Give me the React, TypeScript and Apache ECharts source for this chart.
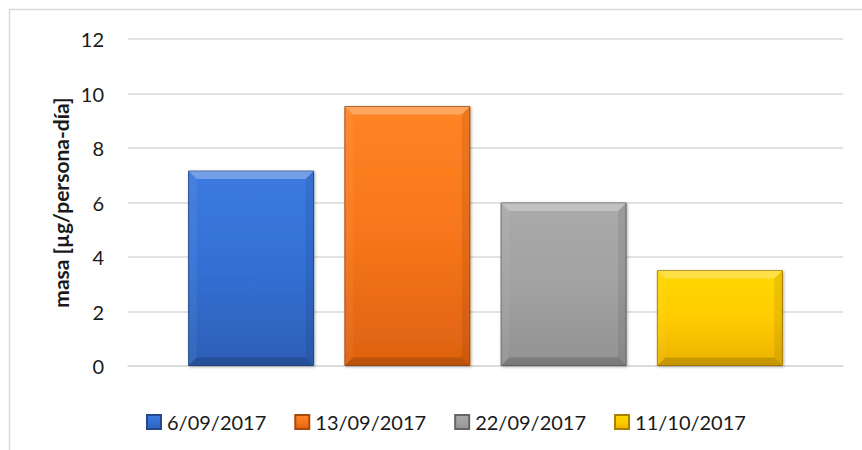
import React, { useEffect, useRef } from "react";
import * as echarts from "echarts";

const categories = [""];
const seriesNames = ["6/09/2017", "13/09/2017", "22/09/2017", "11/10/2017"];
const seriesValues = [7.17, 9.54, 6.0, 3.52];
const yTicks = { min: 0, max: 12, interval: 2 };
const yAxisTitle = "masa [µg/persona-día]";

const palettes = [
  ["#3C7BE0", "#3370D4", "#2D5FB6"],
  ["#FF8424", "#F7761A", "#DE6210"],
  ["#AAAAAA", "#A2A2A2", "#929292"],
  ["#FFD600", "#FFCC00", "#EBB200"],
];
const borders = ["#24498A", "#A84A0C", "#666666", "#A88000"];

const BAR_W = 126;
const BAR_GAP = 0.24;
const BEVEL = 8;

export default function App() {
  const ref = useRef<HTMLDivElement>(null);
  useEffect(() => {
    if (!ref.current) return;
    const chart = echarts.init(ref.current, null, { renderer: "svg" });
    const font = "Lato, 'Open Sans', sans-serif";
    const n = seriesNames.length;
    const step = BAR_W * (1 + BAR_GAP);

    const bevelSeries = {
      type: "custom",
      silent: true,
      z: 3,
      data: seriesValues.map((v, i) => [0, v, i]),
      renderItem: (params: any, api: any) => {
        const v = api.value(1);
        const i = api.value(2);
        const top = api.coord([0, v]);
        const base = api.coord([0, 0]);
        const cx = top[0] + (i - (n - 1) / 2) * step;
        const x0 = cx - BAR_W / 2 + 0.5;
        const x1 = cx + BAR_W / 2 - 0.5;
        const y0 = top[1] + 0.5;
        const y1 = base[1] - 0.5;
        const b = BEVEL;
        return {
          type: "group",
          children: [
            {
              type: "polygon",
              shape: { points: [[x0, y0], [x1, y0], [x1 - b, y0 + b], [x0 + b, y0 + b]] },
              style: { fill: "rgba(255,255,255,0.28)" },
            },
            {
              type: "polygon",
              shape: { points: [[x0, y0], [x0 + b, y0 + b], [x0 + b, y1 - b], [x0, y1]] },
              style: { fill: "rgba(255,255,255,0.05)" },
            },
            {
              type: "polygon",
              shape: { points: [[x1, y0], [x1, y1], [x1 - b, y1 - b], [x1 - b, y0 + b]] },
              style: { fill: "rgba(0,0,0,0.08)" },
            },
            {
              type: "polygon",
              shape: { points: [[x0, y1], [x0 + b, y1 - b], [x1 - b, y1 - b], [x1, y1]] },
              style: { fill: "rgba(0,0,0,0.16)" },
            },
          ],
        };
      },
    };

    chart.setOption({
      animation: false,
      backgroundColor: "#ffffff",
      textStyle: { fontFamily: font },
      graphic: [
        {
          type: "rect",
          shape: { x: 9.5, y: 9.5, width: 900, height: 500 },
          style: { fill: "none", stroke: "#D9D9D9", lineWidth: 1.5 },
          silent: true,
        },
        {
          type: "text",
          x: 60,
          y: 202.5,
          rotation: Math.PI / 2,
          style: {
            text: yAxisTitle,
            font: `bold 21px ${font}`,
            fill: "#1a1a1a",
            align: "center",
            verticalAlign: "middle",
          },
          silent: true,
        },
      ],
      grid: { left: 128, right: 19, top: 39, bottom: 84 },
      legend: {
        top: 407,
        left: 141,
        icon: "rect",
        itemWidth: 14,
        itemHeight: 14,
        itemGap: 28,
        textStyle: { fontFamily: font, fontSize: 20, color: "#1a1a1a", padding: [0, 0, 0, 1] },
        data: seriesNames,
      },
      xAxis: {
        type: "category",
        data: categories,
        axisLine: { show: true, lineStyle: { color: "#D9D9D9", width: 1.5 } },
        axisTick: { show: false },
        axisLabel: { show: false },
      },
      yAxis: {
        type: "value",
        min: yTicks.min,
        max: yTicks.max,
        interval: yTicks.interval,
        axisLine: { show: false },
        axisTick: { show: false },
        axisLabel: { fontFamily: font, fontSize: 20, color: "#1a1a1a", margin: 24 },
        splitLine: { lineStyle: { color: "#D9D9D9", width: 1.5 } },
      },
      series: [
        ...seriesNames.map((name, i) => ({
          name,
          type: "bar",
          data: [seriesValues[i]],
          barWidth: BAR_W,
          barGap: `${BAR_GAP * 100}%`,
          itemStyle: {
            color: new echarts.graphic.LinearGradient(0, 0, 0, 1, [
              { offset: 0, color: palettes[i][0] },
              { offset: 0.5, color: palettes[i][1] },
              { offset: 1, color: palettes[i][2] },
            ]),
            borderColor: borders[i],
            borderWidth: 1,
            shadowColor: "rgba(0,0,0,0.3)",
            shadowBlur: 3,
            shadowOffsetX: 1,
            shadowOffsetY: 1,
          },
        })),
        bevelSeries,
      ],
    });
    return () => chart.dispose();
  }, []);
  return (
    <div
      ref={ref}
      style={{ position: "fixed", left: 0, top: 0, width: 862, height: 450 }}
    />
  );
}
